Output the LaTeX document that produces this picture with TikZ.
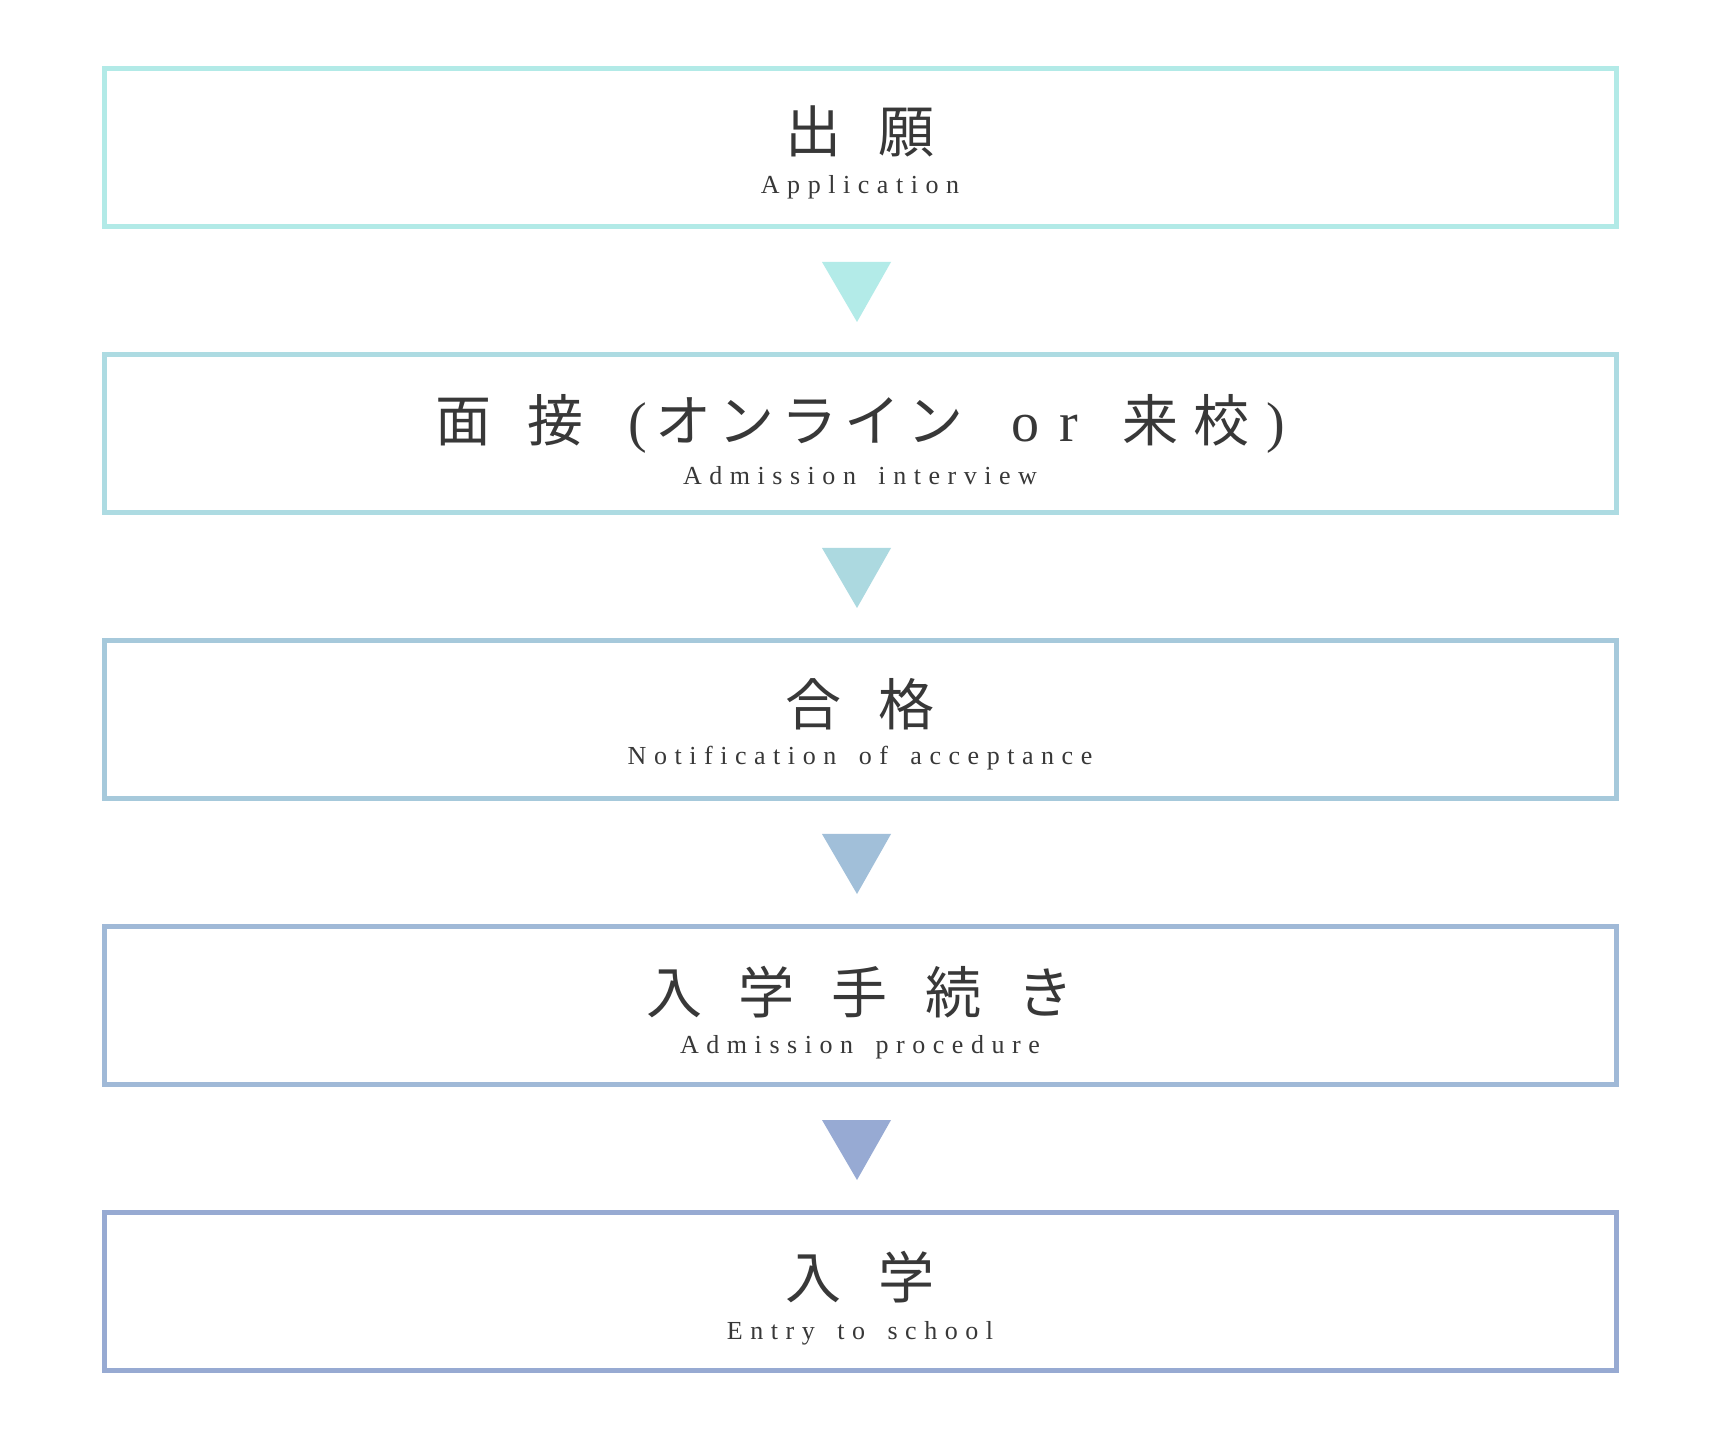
\documentclass[tikz,border=0pt]{standalone}
\usepackage{fontspec}
\setmainfont{Liberation Serif}
\newfontfamily\jpfont{Noto Sans CJK JP}
\newfontfamily\enfont[LetterSpace=29,WordSpace=1.6]{Liberation Serif}
\newcommand{\jgap}{\hspace{37pt}}
\newcommand{\kgap}{\hspace{7pt}}
\definecolor{ink}{HTML}{383838}
\definecolor{boxa}{HTML}{B2EAE7}
\definecolor{boxb}{HTML}{ADDBE2}
\definecolor{boxc}{HTML}{A6C9DB}
\definecolor{boxd}{HTML}{A0B9D7}
\definecolor{boxe}{HTML}{97AAD2}
\definecolor{tria}{HTML}{B3EBE8}
\definecolor{trib}{HTML}{ACD9E0}
\definecolor{tric}{HTML}{A1BFD9}
\definecolor{trid}{HTML}{97AAD3}
\tikzset{
  stage/.style={draw,line width=5pt,minimum width=1512pt,minimum height=158pt,inner sep=0pt},
  jp/.style={font=\jpfont\fontsize{56}{60}\selectfont,text=ink,inner sep=0pt,anchor=base},
  en/.style={font=\enfont\fontsize{26}{30}\selectfont,text=ink,inner sep=0pt,anchor=base}
}
\begin{document}
\begin{tikzpicture}[x=1pt,y=1pt]
\useasboundingbox[fill=white] (0,0) rectangle (1720,1428);
% steps
\node[stage,draw=boxa] at (860.5,1280.5) (apply) {};
\node[stage,draw=boxb] at (860.5,994.5) (interview) {};
\node[stage,draw=boxc] at (860.5,708.5) (passed) {};
\node[stage,draw=boxd] at (860.5,422.5) (procedure) {};
\node[stage,draw=boxe] at (860.5,136.5) (entry) {};
% titles
\node[jp] at (860,1275.5) (applyjp) {出\jgap 願};
\node[en] at (860,1234.7) (applyen) {Application};
\node[jp] at (860,986) (interviewjp) {面\jgap 接\hspace{44pt}{\rmfamily(}\hspace{9pt}オ\kgap ン\kgap ラ\kgap イ\kgap ン\hspace{48pt}{\rmfamily o\hspace{20pt}r}\hspace{44pt}来\hspace{15pt}校\hspace{17pt}{\rmfamily)}};
\node[en] at (860,943) (interviewen) {Admission interview};
\node[jp] at (860,702) (passedjp) {合\jgap 格};
\node[en] at (860,663) (passeden) {Notification of acceptance};
\node[jp] at (860,414.5) (procedurejp) {入\jgap 学\jgap 手\jgap 続\jgap き};
\node[en] at (860,375) (procedureen) {Admission procedure};
\node[jp] at (860,130) (entryjp) {入\jgap 学};
\node[en] at (860,88.5) (entryen) {Entry to school};
% arrows between steps
\fill[tria] ([xshift=-38.5pt,yshift=-33pt]apply.south) -- ([xshift=30.5pt,yshift=-33pt]apply.south) -- ([xshift=-3.5pt,yshift=-93pt]apply.south) -- cycle;
\fill[trib] ([xshift=-38.5pt,yshift=-33pt]interview.south) -- ([xshift=30.5pt,yshift=-33pt]interview.south) -- ([xshift=-3.5pt,yshift=-93pt]interview.south) -- cycle;
\fill[tric] ([xshift=-38.5pt,yshift=-33pt]passed.south) -- ([xshift=30.5pt,yshift=-33pt]passed.south) -- ([xshift=-3.5pt,yshift=-93pt]passed.south) -- cycle;
\fill[trid] ([xshift=-38.5pt,yshift=-33pt]procedure.south) -- ([xshift=30.5pt,yshift=-33pt]procedure.south) -- ([xshift=-3.5pt,yshift=-93pt]procedure.south) -- cycle;
\end{tikzpicture}
\end{document}
